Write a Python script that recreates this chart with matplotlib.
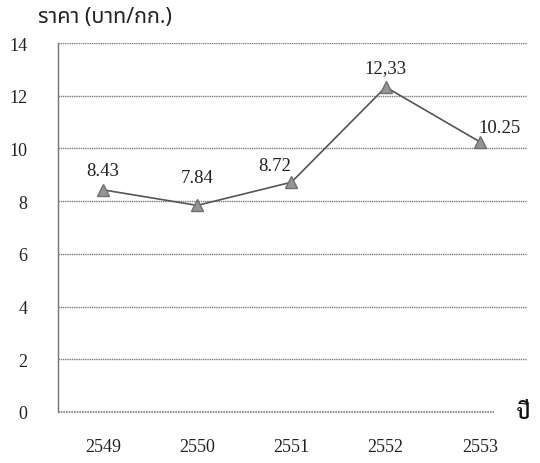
import matplotlib
matplotlib.use("Agg")
import matplotlib.pyplot as plt

# ราคาเฉลี่ยรายปี
years = ["2549", "2550", "2551", "2552", "2553"]
prices = [8.43, 7.84, 8.72, 12.33, 10.25]
price_labels = ["8.43", "7.84", "8.72", "12,33", "10.25"]
yticks = [0, 2, 4, 6, 8, 10, 12, 14]

# label offsets in points (dx, dy)
label_offsets = [(0, 14), (0, 20), (-12, 12), (0, 14), (14, 10)]

plt.rcParams['font.family'] = ['Liberation Serif', 'Noto Sans Thai', 'DejaVu Sans']

fig = plt.figure(figsize=(5.4, 4.64), dpi=100)
ax = fig.add_axes([0.107, 0.110, 0.869, 0.795])

x = list(range(len(years)))
ax.plot(x, prices, color='#555555', linewidth=1.2, marker='^',
        markersize=9, markerfacecolor='#959595', markeredgecolor='#707070',
        zorder=3)

for xi, v, lab, (dx, dy) in zip(x, prices, price_labels, label_offsets):
    ax.annotate(lab, (xi, v), xytext=(dx, dy), textcoords='offset points',
                ha='center', va='center', fontsize=13.5, color='#222222')

ax.set_xlim(-0.48, 4.5)
ax.set_ylim(0, 14)
ax.set_yticks(yticks)
ax.set_xticks(x)
ax.set_xticklabels(years)
ax.tick_params(axis='both', length=0, labelsize=13, colors='#222222')
ax.tick_params(axis='y', pad=22)
ax.tick_params(axis='x', pad=19)

dotted = (0, (1, 0.6))
for yv in yticks[1:]:
    ax.axhline(yv, color='#7a7a7a', linewidth=1.0, linestyle=dotted, zorder=1)
# x axis line stops short of the right edge
ax.axhline(0, xmax=0.93, color='#7a7a7a', linewidth=1.2, linestyle=dotted,
           zorder=2, clip_on=False)

for side in ['top', 'right', 'bottom']:
    ax.spines[side].set_visible(False)
ax.spines['left'].set_color('#7a7a7a')
ax.spines['left'].set_linestyle(dotted)
ax.spines['left'].set_linewidth(1.0)

fig.text(38 / 540, 1 - 17 / 464, "ราคา (บาท/กก.)", ha='left', va='center',
         fontsize=15.5, family=['Noto Sans Thai', 'DejaVu Sans'], color='#222222')
fig.text(517 / 540, 1 - 413 / 464, "ปี", ha='left', va='center',
         fontsize=14, fontweight='bold', family=['Sarabun', 'Noto Sans Thai', 'DejaVu Sans'],
         color='#111111')

fig.savefig("out.png", dpi=100)
